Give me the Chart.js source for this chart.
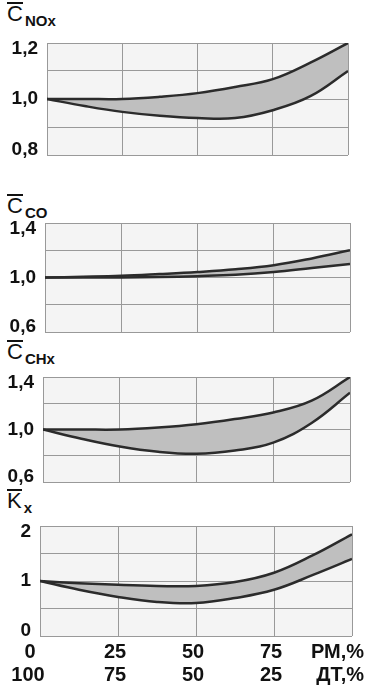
<!DOCTYPE html>
<html>
<head>
<meta charset="utf-8">
<script src="https://cdn.jsdelivr.net/npm/chart.js@4/dist/chart.umd.min.js"></script>
<style>
  body { margin: 0; background: #fff; width: 368px; height: 690px; position: relative; overflow: hidden; font-family: "Liberation Sans", Arial, sans-serif; }
  canvas { position: absolute; left: 0; }
  .ttl { position: absolute; left: 7px; color: #111; white-space: nowrap; line-height: 1; }
  .ttl .bar { font-size: 22px; display: inline-block; border-top: 2px solid #111; padding-top: 1px; line-height: 17px; }
  .ttl .sub { font-size: 15px; font-weight: bold; position: relative; top: 5px; margin-left: 2px; }
</style>
</head>
<body>
<div class="ttl" style="top:2px"><span class="bar">C</span><span class="sub">NOx</span></div>
<div class="ttl" style="top:194px"><span class="bar">C</span><span class="sub">CO</span></div>
<div class="ttl" style="top:340px"><span class="bar">C</span><span class="sub">CHx</span></div>
<div class="ttl" style="top:489px"><span class="bar">K</span><span class="sub">x</span></div>

<canvas id="noxChart" style="top:23px" width="368" height="152"></canvas>
<canvas id="coChart" style="top:203px" width="368" height="149"></canvas>
<canvas id="chxChart" style="top:357px" width="368" height="145"></canvas>
<canvas id="kxChart" style="top:506px" width="368" height="184"></canvas>

<script>
// share of rapeseed oil, %
const rmShare = [0, 12.5, 25, 37.5, 50, 62.5, 75, 87.5, 100];
const xTicks = [0, 25, 50, 75, 100];
const rmLabels = ['0', '25', '50', '75', 'РМ,%'];
const dtLabels = ['100', '75', '50', '25', 'ДТ,%'];

const noxUpper = [1.0, 1.0, 1.0, 1.008, 1.021, 1.043, 1.071, 1.13, 1.2];
const noxLower = [1.0, 0.975, 0.954, 0.94, 0.932, 0.932, 0.96, 1.01, 1.10];
const noxTicks = [0.8, 1.0, 1.2];

const coUpper = [1.0, 1.005, 1.012, 1.025, 1.04, 1.06, 1.09, 1.14, 1.2];
const coLower = [1.0, 1.0, 1.0, 1.003, 1.01, 1.02, 1.04, 1.07, 1.1];
const coTicks = [0.6, 1.0, 1.4];

const chxUpper = [1.0, 1.0, 1.0, 1.015, 1.04, 1.08, 1.13, 1.22, 1.4];
const chxLower = [1.0, 0.93, 0.87, 0.83, 0.815, 0.84, 0.90, 1.05, 1.28];
const chxTicks = [0.6, 1.0, 1.4];

const kxUpper = [1.0, 0.96, 0.93, 0.91, 0.91, 0.98, 1.15, 1.47, 1.85];
const kxLower = [1.0, 0.84, 0.71, 0.62, 0.6, 0.69, 0.84, 1.11, 1.4];
const kxTicks = [0, 1, 2];

const FONT = '"Liberation Sans", Arial, sans-serif';

// plot background
const bgPlugin = {
    id: 'plotBg',
    beforeDraw(chart) {
        const a = chart.chartArea;
        const ctx = chart.ctx;
        ctx.save();
        ctx.fillStyle = '#f4f4f4';
        ctx.fillRect(a.left, a.top, a.right - a.left, a.bottom - a.top);
        ctx.restore();
    }
};

// y labels: end ones are pulled inside the frame like in the original
const yLabels = {
    id: 'yLabels',
    afterDraw(chart, args, opts) {
        const ctx = chart.ctx;
        const ys = chart.scales.y;
        const a = chart.chartArea;
        ctx.save();
        ctx.font = 'bold 19px ' + FONT;
        ctx.fillStyle = '#111';
        ctx.textAlign = 'right';
        ctx.textBaseline = 'middle';
        opts.values.forEach(v => {
            let y = ys.getPixelForValue(v);
            y = Math.min(Math.max(y, a.top + 6), a.bottom - 5);
            const txt = opts.comma ? v.toFixed(1).replace('.', ',') : String(v);
            ctx.fillText(txt, a.left - 9, y);
        });
        ctx.restore();
    }
};

// the two rows of labels under the last panel
const bottomLabels = {
    id: 'bottomLabels',
    afterDraw(chart) {
        const ctx = chart.ctx;
        const xs = chart.scales.x;
        const base = chart.chartArea.bottom;
        ctx.save();
        ctx.font = 'bold 20px ' + FONT;
        ctx.fillStyle = '#111';
        ctx.textBaseline = 'middle';
        xTicks.forEach((v, i) => {
            const x = xs.getPixelForValue(v);
            if (i === xTicks.length - 1) {
                ctx.textAlign = 'right';
                ctx.fillText(rmLabels[i], 364, base + 16);
                ctx.fillText(dtLabels[i], 364, base + 39);
            } else if (i === 0) {
                ctx.textAlign = 'center';
                ctx.fillText(rmLabels[i], x - 10, base + 16);
                ctx.fillText(dtLabels[i], x - 12, base + 39);
            } else {
                ctx.textAlign = 'center';
                ctx.fillText(rmLabels[i], x - 3, base + 16);
                ctx.fillText(dtLabels[i], x - 3, base + 39);
            }
        });
        ctx.restore();
    }
};

function makePanel(id, upper, lower, yMin, yMax, step, labels, yWidth, rightPad, bottomPad, extra) {
    const ctx = document.getElementById(id).getContext('2d');
    return new Chart(ctx, {
        type: 'line',
        data: {
            labels: rmShare,
            datasets: [{
                data: upper,
                borderColor: '#2b2b2b',
                borderWidth: 2.5,
                backgroundColor: '#bfbfbf',
                fill: '+1',
                tension: 0.4,
                pointRadius: 0
            }, {
                data: lower,
                borderColor: '#2b2b2b',
                borderWidth: 2.5,
                fill: false,
                tension: 0.4,
                pointRadius: 0
            }]
        },
        options: {
            responsive: false,
            animation: false,
            layout: { padding: { top: 20, right: rightPad, bottom: bottomPad, left: 0 } },
            plugins: {
                legend: { display: false },
                tooltip: { enabled: false },
                filler: { drawTime: 'beforeDatasetsDraw' },
                yLabels: { values: labels, comma: step < 0.5 }
            },
            scales: {
                x: {
                    type: 'linear',
                    min: 0,
                    max: 100,
                    ticks: { display: false, stepSize: 25 },
                    grid: { color: '#999', lineWidth: 1, drawTicks: false },
                    border: { display: false }
                },
                y: {
                    min: yMin,
                    max: yMax,
                    afterFit(scale) { scale.width = yWidth; },
                    ticks: { display: false, stepSize: step },
                    grid: { color: '#999', lineWidth: 1, drawTicks: false },
                    border: { display: false }
                }
            }
        },
        plugins: extra ? [bgPlugin, yLabels, extra] : [bgPlugin, yLabels]
    });
}

makePanel('noxChart', noxUpper, noxLower, 0.8, 1.2, 0.1, noxTicks, 47, 20, 20);
makePanel('coChart', coUpper, coLower, 0.6, 1.4, 0.2, coTicks, 45, 18, 20);
makePanel('chxChart', chxUpper, chxLower, 0.6, 1.4, 0.2, chxTicks, 43, 18, 20);
makePanel('kxChart', kxUpper, kxLower, 0, 2, 0.5, kxTicks, 40, 16, 54, bottomLabels);
</script>
</body>
</html>
